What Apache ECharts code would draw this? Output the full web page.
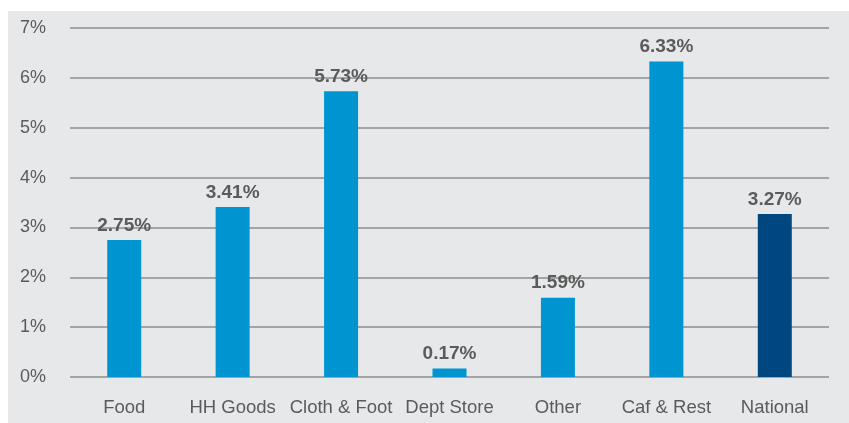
<!DOCTYPE html>
<html>
<head>
<meta charset="utf-8">
<script src="https://cdn.jsdelivr.net/npm/echarts@6/dist/echarts.min.js"></script>
<style>
  html, body { margin: 0; padding: 0; background: #fff; }
  #main { width: 849px; height: 423px; }
</style>
</head>
<body>
<div id="main"></div>
<script>
    // categories and values
    var categories = ['Food', 'HH Goods', 'Cloth & Foot', 'Dept Store', 'Other', 'Caf & Rest', 'National'];
    var growth = [2.75, 3.41, 5.73, 0.17, 1.59, 6.33, 3.27];
    var yTicks = [0, 1, 2, 3, 4, 5, 6, 7];

    var lightBlue = '#0094d1',
        darkBlue = '#00467f',
        textColor = '#5b5b5b',
        font = 'Liberation Sans';

    var chart = echarts.init(document.getElementById('main'));

    var barData = growth.map(function (v, i) {
        return {
            value: v,
            itemStyle: { color: categories[i] === 'National' ? darkBlue : lightBlue }
        };
    });

    var option = {
        animation: false,
        graphic: [{
            type: 'rect',
            z: -10,
            shape: { x: 8, y: 11, width: 841, height: 412 },
            style: { fill: '#e7e8e9' }
        }],
        grid: { left: 70, right: 20, top: 28, bottom: 46 },
        xAxis: {
            type: 'category',
            data: categories,
            axisLine: { show: false },
            axisTick: { show: false },
            axisLabel: {
                interval: 0,
                color: textColor,
                fontFamily: font,
                fontSize: 18.5,
                margin: 21
            }
        },
        yAxis: {
            type: 'value',
            min: yTicks[0],
            max: yTicks[yTicks.length - 1],
            interval: 1,
            axisLine: { show: false },
            axisTick: { show: false },
            axisLabel: {
                color: textColor,
                fontFamily: font,
                fontSize: 18,
                margin: 24,
                formatter: '{value}%'
            },
            splitLine: { lineStyle: { color: '#a3a4a6', width: 2 } }
        },
        series: [{
            type: 'bar',
            data: barData,
            barWidth: 34,
            label: {
                show: true,
                position: 'top',
                distance: 5,
                color: textColor,
                fontFamily: font,
                fontWeight: 'bold',
                fontSize: 19,
                formatter: function (p) {
                    return p.value.toFixed(2) + '%';
                }
            }
        }]
    };

    chart.setOption(option);
</script>
</body>
</html>
